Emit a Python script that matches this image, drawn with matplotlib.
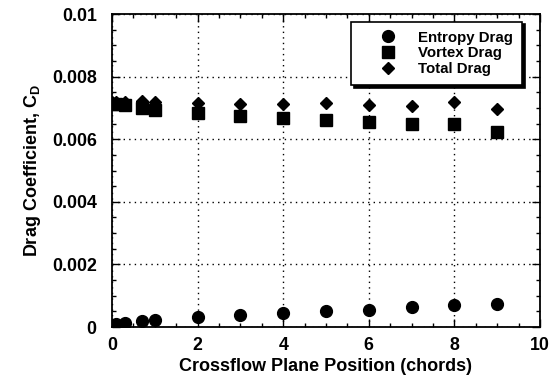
import matplotlib
matplotlib.use("Agg")
import matplotlib.pyplot as plt
from matplotlib.ticker import MultipleLocator

plt.rcParams['font.family'] = ['Liberation Sans', 'DejaVu Sans']
plt.rcParams['font.weight'] = 'bold'
plt.rcParams['mathtext.fontset'] = 'custom'
plt.rcParams['mathtext.bf'] = 'Liberation Sans:bold'
plt.rcParams['mathtext.rm'] = 'Liberation Sans:bold'

x_pos = [0, 0.1, 0.3, 0.7, 1.0, 2, 3, 4, 5, 6, 7, 8, 9]
entropy = [0.00007, 0.00011, 0.00014, 0.0002, 0.00022, 0.00033, 0.00038, 0.00046,
           0.00052, 0.00054, 0.00063, 0.00071, 0.00073]
vortex = [0.00714, 0.00712, 0.00708, 0.00700, 0.00693, 0.00683, 0.00675, 0.00669,
          0.00662, 0.00654, 0.00648, 0.00649, 0.00624]
total = [0.00718, 0.00720, 0.00719, 0.00721, 0.00720, 0.00715, 0.00712, 0.00712,
         0.00715, 0.00709, 0.00706, 0.00719, 0.00696]

x_ticks = [0, 2, 4, 6, 8, 10]
y_ticks = [0, 0.002, 0.004, 0.006, 0.008, 0.01]
y_tick_labels = ["0", "0.002", "0.004", "0.006", "0.008", "0.01"]

fig = plt.figure(figsize=(5.53, 3.84), dpi=100)
ax = fig.add_axes([0.2025, 0.1484, 0.774, 0.815])

ax.plot(x_pos, entropy, 'o', color='black', markersize=8.5, label='Entropy Drag', zorder=3)
ax.plot(x_pos, vortex, 's', color='black', markersize=8, label='Vortex Drag', zorder=3)
ax.plot(x_pos, total, 'D', color='black', markersize=6, label='Total Drag', zorder=3)

ax.set_xlim(0, 10)
ax.set_ylim(0, 0.01)
ax.set_xticks(x_ticks)
ax.set_yticks(y_ticks)
ax.set_yticklabels(y_tick_labels)
ax.xaxis.set_minor_locator(MultipleLocator(0.5))
ax.yaxis.set_minor_locator(MultipleLocator(0.0005))
ax.tick_params(which='both', direction='in', top=True, right=True, labelsize=12.8, width=1)
ax.tick_params(which='major', length=6)
ax.tick_params(which='minor', length=3)
ax.tick_params(axis='x', which='major', pad=7)
ax.tick_params(axis='y', which='major', pad=11)
for lbl in ax.get_xticklabels() + ax.get_yticklabels():
    lbl.set_fontweight('bold')

ax.grid(True, which='major', linestyle=(0, (1, 3)), color='black', linewidth=1)
for s in ax.spines.values():
    s.set_linewidth(1.3)

ax.set_xlabel('Crossflow Plane Position (chords)', fontsize=13, fontweight='bold', labelpad=3)
ax.set_ylabel('Drag Coefficient, C$_\\mathbf{D}$', fontsize=13, fontweight='bold', labelpad=6)

leg = ax.legend(loc='upper right', bbox_to_anchor=(0.9755, 1.0), frameon=True, fancybox=False,
                shadow={'color': 'black', 'alpha': 1}, edgecolor='black', fontsize=10.8,
                handletextpad=0.15, borderpad=0.6, labelspacing=0.12, handlelength=3.7)
leg.get_frame().set_linewidth(1.2)
for t in leg.get_texts():
    t.set_fontweight('bold')

fig.savefig('out.png', dpi=100)
